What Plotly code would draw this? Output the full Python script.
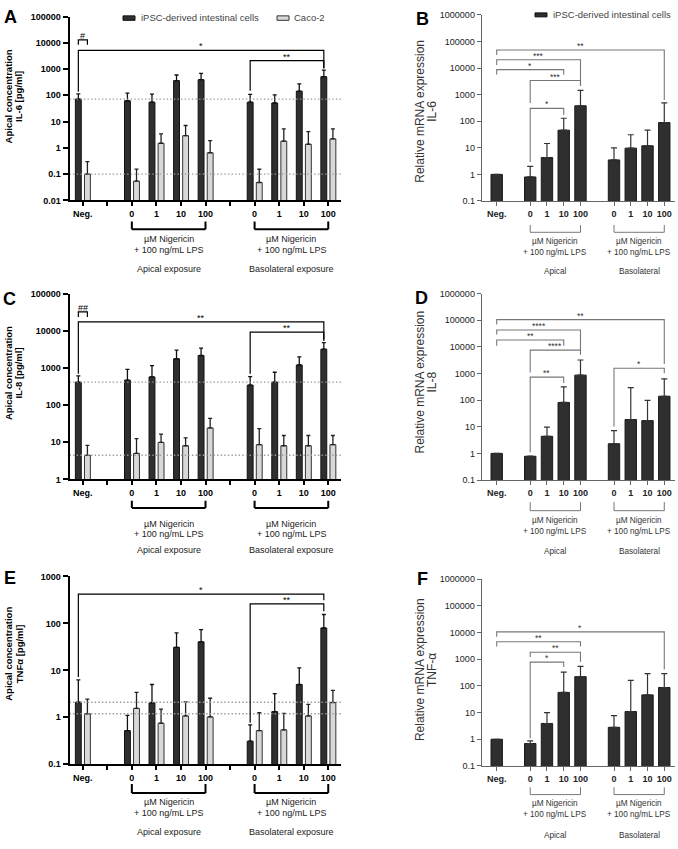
import math
import plotly.graph_objects as go

W, H = 678, 849
FONT = "Liberation Sans, Arial, sans-serif"

# ---------------- data ----------------
POS = [0, 2, 3, 4, 5, 7, 8, 9, 10]
CAT_LABELS = ["Neg.", "0", "1", "10", "100", "0", "1", "10", "100"]
GROUP_SPANS = [(2, 5), (7, 10)]
CONC_GROUP_TITLES = ["Apical exposure", "Basolateral exposure"]
MRNA_GROUP_TITLES = ["Apical", "Basolateral"]

# A: IL-6 apical concentration [pg/ml]
IL6_IPSC = [72, 62, 55, 363, 395, 55, 51, 144, 513]
IL6_IPSC_SD = [42, 59, 56, 231, 290, 53, 54, 128, 402]
IL6_CACO = [0.10, 0.054, 1.5, 2.9, 0.65, 0.048, 1.8, 1.37, 2.2]
IL6_CACO_SD = [0.20, 0.10, 1.9, 4.2, 1.25, 0.105, 3.5, 2.8, 3.1]

# C: IL-8 apical concentration [pg/ml]
IL8_IPSC = [417, 471, 578, 1780, 2180, 347, 417, 1210, 3220]
IL8_IPSC_SD = [198, 454, 582, 1250, 1250, 243, 353, 790, 1630]
IL8_CACO = [4.45, 5.0, 9.9, 8.05, 24.3, 8.6, 8.05, 8.05, 8.6]
IL8_CACO_SD = [3.75, 7.6, 6.6, 5.05, 19.7, 14.7, 7.15, 7.15, 6.6]

# E: TNFa apical concentration [pg/ml]
TNF_IPSC = [2.1, 0.52, 2.04, 31, 40.5, 0.31, 1.32, 5.0, 80]
TNF_IPSC_SD = [4.2, 0.58, 2.96, 32, 33.5, 0.38, 1.88, 6.3, 75]
TNF_CACO = [1.19, 1.55, 0.75, 1.07, 1.02, 0.52, 0.54, 1.07, 2.07]
TNF_CACO_SD = [1.24, 1.85, 0.75, 1.07, 1.53, 0.73, 0.67, 0.81, 1.69]

# B / D / F: relative mRNA expression
IL6_MRNA = [1, 0.8, 4.3, 46, 380, 3.5, 9.7, 11.9, 89]
IL6_MRNA_SD = [0, 1.2, 10.2, 83, 1060, 6.5, 21.3, 34.1, 401]
IL8_MRNA = [1, 0.78, 4.4, 82, 867, 2.3, 18.7, 17, 140]
IL8_MRNA_SD = [0, 0.02, 5.3, 230, 2333, 4.8, 276, 80, 490]
TNF_MRNA = [1, 0.69, 3.9, 57, 222, 2.8, 10.9, 46, 87]
TNF_MRNA_SD = [0, 0.18, 6.1, 273, 313, 4.9, 151, 240, 199]

# significance brackets: (cat a, series a, cat b, series b, level, leg a end, leg b end, label)
SIG_A = [(0, "d", 0, "l", 13000, 8500, 8500, "#"),
         (0, "d", 8, "d", 5170, 136, 1050, "*"),
         (5, "d", 8, "d", 2110, 148, 1090, "**")]
SIG_C = [(0, "d", 0, "l", 32500, 23900, 23900, "##"),
         (0, "d", 8, "d", 17600, 700, 5370, "**"),
         (5, "d", 8, "d", 9330, 700, 5900, "**")]
SIG_E = [(0, "d", 8, "d", 420, 7.2, 310, "*"),
         (5, "d", 8, "d", 260, 0.77, 182, "**")]
# (cat a, cat b, level, leg a end, leg b end, label)
SIG_B = [(0, 8, 48000, 31000, 630, "**"),
         (0, 4, 20400, 13000, 2100, "***"),
         (0, 3, 8700, 5700, 5650, "*"),
         (1, 4, 3400, 480, 2100, "***"),
         (1, 3, 303, 2.9, 170, "*")]
SIG_D = [(0, 8, 105000, 69000, 2270, "**"),
         (0, 4, 42600, 29000, 7000, "****"),
         (0, 3, 18000, 10900, 11000, "**"),
         (1, 4, 7530, 1100, 5000, "****"),
         (1, 3, 730, 1.1, 440, "**"),
         (5, 8, 1580, 10.3, 1030, "*")]
SIG_F = [(0, 8, 10600, 6900, 414, "*"),
         (0, 4, 4500, 3000, 3000, "**"),
         (1, 4, 1820, 1200, 780, "**"),
         (1, 3, 780, 1.1, 505, "*")]

# ---------------- styling ----------------
DARK = "#2f2f2f"
LIGHT = "#d8d8d8"
D_OFF, L_OFF, CW = -0.18, 0.19, 0.24
MW = 0.68
XR_CONC = [-0.54, 10.52]
XR_MRNA = [-0.895, 10.64]

fig = go.Figure()
annotations = []
shapes = []
axes = {}


def px(x):
    return x / W


def py(y):
    return 1 - y / H


def ids(i):
    s = "" if i == 1 else str(i)
    return "x" + s, "y" + s, "xaxis" + s, "yaxis" + s


def log_ticks(lo, hi):
    vals = [10.0 ** e for e in range(lo, hi + 1)]
    return vals, [f"{v:.10g}" for v in vals]


def text(x, y, t, size, color="black", xref="paper", yref="paper", angle=0,
         xanchor="center", yanchor="middle", bold=False, yshift=0):
    annotations.append(dict(x=x, y=y, xref=xref, yref=yref, text=("<b>%s</b>" % t) if bold else t,
                            showarrow=False, textangle=angle, xanchor=xanchor, yanchor=yanchor,
                            yshift=yshift, borderpad=0,
                            font=dict(family=FONT, size=size, color=color)))


def group_brackets(xr, pxs, titles, lw, lc, fsize, tcolor):
    top, bar, l1, l2, l3 = pxs
    for (g0, g1), ttl in zip(GROUP_SPANS, titles):
        for x0, x1, y0, y1 in [(g0, g0, top, bar), (g1, g1, top, bar), (g0, g1, bar, bar)]:
            shapes.append(dict(type="line", xref=xr, yref="paper", x0=x0, x1=x1, y0=py(y0), y1=py(y1),
                               line=dict(color=lc, width=lw)))
        mid = (g0 + g1) / 2
        text(mid, py(l1), "µM Nigericin", fsize, tcolor, xref=xr)
        text(mid, py(l2), "+ 100 ng/mL LPS", fsize, tcolor, xref=xr)
        text(mid, py(l3), ttl, fsize, tcolor, xref=xr)


def conc_panel(i, xdom, ydom, exps, ipsc, ipsc_sd, caco, caco_sd, sig, pxs):
    xr, yr, xa, ya = ids(i)
    for v in (ipsc[0], caco[0]):
        fig.add_trace(go.Scatter(x=XR_CONC, y=[v, v], mode="lines", xaxis=xr, yaxis=yr,
                                 line=dict(color="#999999", width=1.4, dash="1.4px,2.2px"),
                                 hoverinfo="skip", showlegend=False))
    fig.add_trace(go.Bar(x=POS, y=ipsc, width=CW, offset=D_OFF - CW / 2, xaxis=xr, yaxis=yr,
                         marker=dict(color=DARK, line=dict(color="#111111", width=1)),
                         error_y=dict(type="data", symmetric=False, array=ipsc_sd, arrayminus=[0] * len(ipsc),
                                      color="#111111", thickness=1.3, width=2),
                         hoverinfo="skip", showlegend=False))
    fig.add_trace(go.Bar(x=POS, y=caco, width=CW, offset=L_OFF - CW / 2, xaxis=xr, yaxis=yr,
                         marker=dict(color=LIGHT, line=dict(color="#333333", width=1)),
                         error_y=dict(type="data", symmetric=False, array=caco_sd, arrayminus=[0] * len(caco),
                                      color="#222222", thickness=1.3, width=2),
                         hoverinfo="skip", showlegend=False))
    bx, by = [], []
    for ca, sa, cb, sb, lev, la, lb, lab in sig:
        x0 = POS[ca] + (D_OFF if sa == "d" else L_OFF)
        x1 = POS[cb] + (D_OFF if sb == "d" else L_OFF)
        bx += [x0, x0, x1, x1, None]
        by += [la, lev, lev, lb, None]
        text((x0 + x1) / 2, math.log10(lev), lab, 9, "black", xref=xr, yref=yr, yanchor="bottom", yshift=-2)
    fig.add_trace(go.Scatter(x=bx, y=by, mode="lines", xaxis=xr, yaxis=yr, cliponaxis=False,
                             line=dict(color="black", width=1.2), hoverinfo="skip", showlegend=False))
    tv, tt = log_ticks(*exps)
    xt = ["<b>%s</b>" % CAT_LABELS[POS.index(k)] if k in POS else "" for k in range(11)]
    axes[xa] = dict(domain=[px(xdom[0]), px(xdom[1])], anchor=yr, range=XR_CONC, tickmode="array",
                    tickvals=list(range(11)), ticktext=xt, showline=True, linecolor="black", linewidth=2,
                    ticks="outside", ticklen=4, tickwidth=1.5, tickcolor="black", showgrid=False,
                    zeroline=False, tickfont=dict(family=FONT, size=9, color="black"))
    axes[ya] = dict(domain=[py(ydom[1]), py(ydom[0])], anchor=xr, type="log",
                    range=[exps[0], exps[1]], tickmode="array", tickvals=tv,
                    ticktext=["<b>%s</b>" % t for t in tt], showline=True, linecolor="black", linewidth=2,
                    ticks="outside", ticklen=5, tickwidth=2, tickcolor="black", showgrid=False,
                    zeroline=False, tickfont=dict(family=FONT, size=9, color="black"))
    group_brackets(xr, pxs, CONC_GROUP_TITLES, 2, "black", 9, "#222222")


def mrna_panel(i, xdom, ydom, vals, sd, sig, pxs):
    xr, yr, xa, ya = ids(i)
    fig.add_trace(go.Bar(x=POS, y=vals, width=MW, offset=-MW / 2, xaxis=xr, yaxis=yr,
                         marker=dict(color=DARK, line=dict(color="#1a1a1a", width=1)),
                         error_y=dict(type="data", symmetric=False, array=sd, arrayminus=[0] * len(vals),
                                      color="#333333", thickness=1.2, width=3),
                         hoverinfo="skip", showlegend=False))
    bx, by = [], []
    for ca, cb, lev, la, lb, lab in sig:
        x0, x1 = POS[ca], POS[cb]
        bx += [x0, x0, x1, x1, None]
        by += [la, lev, lev, lb, None]
        text((x0 + x1) / 2, math.log10(lev), lab, 8.5, "#333333", xref=xr, yref=yr, yanchor="bottom",
             yshift=-2)
    fig.add_trace(go.Scatter(x=bx, y=by, mode="lines", xaxis=xr, yaxis=yr, cliponaxis=False,
                             line=dict(color="#777777", width=1.1), hoverinfo="skip", showlegend=False))
    tv, tt = log_ticks(-1, 6)
    axes[xa] = dict(domain=[px(xdom[0]), px(xdom[1])], anchor=yr, range=XR_MRNA, tickmode="array",
                    tickvals=POS, ticktext=["<b>%s</b>" % c for c in CAT_LABELS], showline=True,
                    linecolor="#666666", linewidth=1, ticks="outside", ticklen=4, tickwidth=1,
                    tickcolor="#666666", showgrid=False, zeroline=False,
                    tickfont=dict(family=FONT, size=9, color="#222222"))
    axes[ya] = dict(domain=[py(ydom[1]), py(ydom[0])], anchor=xr, type="log", range=[-1, 6],
                    tickmode="array", tickvals=tv, ticktext=tt, showline=True, linecolor="#666666",
                    linewidth=1, ticks="outside", ticklen=4, tickwidth=1, tickcolor="#666666",
                    showgrid=False, zeroline=False, tickfont=dict(family=FONT, size=9, color="#222222"))
    group_brackets(xr, pxs, MRNA_GROUP_TITLES, 1, "#777777", 8.2, "#333333")


# ---------------- panels ----------------
conc_panel(1, (69.5, 341), (11.7, 197.7), (-2, 5), IL6_IPSC, IL6_IPSC_SD, IL6_CACO, IL6_CACO_SD, SIG_A,
           (219, 227, 237, 248, 267))
conc_panel(3, (69.5, 341), (292.3, 480), (0, 5), IL8_IPSC, IL8_IPSC_SD, IL8_CACO, IL8_CACO_SD, SIG_C,
           (501.7, 509, 525, 535.5, 551.7))
conc_panel(5, (69.5, 341), (578.3, 768.3), (-1, 3), TNF_IPSC, TNF_IPSC_SD, TNF_CACO, TNF_CACO_SD, SIG_E,
           (788.3, 797.3, 807, 818, 836.7))
mrna_panel(2, (481.7, 675), (10, 198.3), IL6_MRNA, IL6_MRNA_SD, SIG_B, (222.7, 230, 239.5, 250, 270))
mrna_panel(4, (481.7, 675), (292, 480.7), IL8_MRNA, IL8_MRNA_SD, SIG_D, (503, 511.7, 522, 532.5, 553.3))
mrna_panel(6, (481.7, 675), (581, 770), TNF_MRNA, TNF_MRNA_SD, SIG_F, (791.7, 799, 808.5, 819, 840))

# y-axis titles
for yc, name in [(93, "IL-6 [pg/ml]"), (373, "IL-8 [pg/ml]"), (657, "TNFα [pg/ml]")]:
    text(px(8.5), py(yc), "Apical concentration", 9.5, "black", angle=-90, bold=True)
    text(px(19), py(yc), name, 9.5, "black", angle=-90, bold=True)
for yc, name in [(108, "IL-6"), (382, "IL-8"), (673, "TNF-α")]:
    text(px(420), py(yc), "Relative mRNA expression", 12, "#333333", angle=-90)
    text(px(432), py(yc), name, 12, "#333333", angle=-90)

# panel letters
for x, y, L in [(10, 12, "A"), (9, 297, "C"), (10, 580, "E"), (422, 14, "B"), (421, 296, "D"), (422, 581, "F")]:
    text(px(x), py(y), L, 18, "black", bold=True)

# legends
for x0, x1, y0, y1, col, lc in [(123, 135, 11, 15.5, DARK, "#111111"), (277, 289, 11, 15.5, LIGHT, "#333333"),
                               (535, 547, 8, 12, DARK, "#111111")]:
    shapes.append(dict(type="rect", xref="paper", yref="paper", x0=px(x0), x1=px(x1), y0=py(y1), y1=py(y0),
                       fillcolor=col, line=dict(color=lc, width=1)))
text(px(140), py(13), "iPSC-derived intestinal cells", 9.5, "#444444", xanchor="left")
text(px(293), py(13), "Caco-2", 9.5, "#444444", xanchor="left")
text(px(551.5), py(10), "iPSC-derived intestinal cells", 9.5, "#444444", xanchor="left")

fig.update_layout(width=W, height=H, autosize=False, margin=dict(l=0, r=0, t=0, b=0),
                  paper_bgcolor="white", plot_bgcolor="white", showlegend=False, barmode="overlay",
                  hovermode=False, annotations=annotations, shapes=shapes,
                  font=dict(family=FONT, size=9, color="black"), **axes)

fig.write_html("out.html")
